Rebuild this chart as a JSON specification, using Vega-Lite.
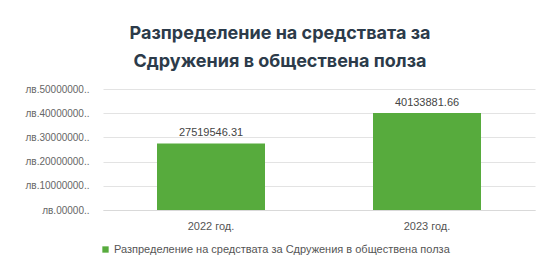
{
  "$schema": "https://vega.github.io/schema/vega-lite/v6.json",
  "width": 432,
  "height": 121,
  "autosize": {"type": "none"},
  "padding": {"left": 103, "top": 89, "right": 1, "bottom": 52},
  "background": "white",
  "title": {
    "text": ["Разпределение на средствата за", "Сдружения в обществена полза"],
    "font": "Inter",
    "fontSize": 18,
    "fontWeight": "bold",
    "color": "#2c3b4a",
    "lineHeight": 28,
    "anchor": "middle",
    "frame": "group",
    "dx": -39,
    "offset": 13
  },
  "data": {
    "values": [
      {"year": "2022 год.", "value": 27519546.31, "series": "Разпределение на средствата за Сдружения в обществена полза"},
      {"year": "2023 год.", "value": 40133881.66, "series": "Разпределение на средствата за Сдружения в обществена полза"}
    ]
  },
  "encoding": {
    "x": {
      "field": "year", "type": "nominal", "title": null, "sort": null,
      "scale": {"paddingInner": 0.5, "paddingOuter": 0.25},
      "axis": {"labelAngle": 0, "domain": true, "domainColor": "#d9d9d9", "ticks": false, "labelPadding": 10, "labelFont": "Liberation Sans", "labelFontSize": 11, "labelColor": "#555555"}
    },
    "y": {
      "field": "value", "type": "quantitative", "title": null,
      "scale": {"domain": [0, 50000000]},
      "axis": {
        "values": [0, 10000000, 20000000, 30000000, 40000000, 50000000],
        "labelExpr": "datum.value == 0 ? 'лв.00000..' : 'лв.' + datum.value + '..'",
        "domain": false, "ticks": false, "labelPadding": 14,
        "gridColor": "#e3e3e3", "labelFont": "Liberation Sans", "labelFontSize": 10, "labelColor": "#666666"
      }
    }
  },
  "layer": [
    {
      "mark": {"type": "bar"},
      "encoding": {
        "color": {
          "field": "series", "type": "nominal", "title": null,
          "scale": {"range": ["#57ab3d"]},
          "legend": {"orient": "none", "legendX": -3, "legendY": 155, "symbolType": "square", "symbolSize": 40, "labelLimit": 0, "labelFont": "Liberation Sans", "labelFontSize": 11, "labelColor": "#555555", "symbolOffset": 0, "labelOffset": 3}
        }
      }
    },
    {
      "mark": {"type": "text", "dy": -10, "font": "Liberation Sans", "fontSize": 11, "color": "#444444"},
      "encoding": {
        "text": {"field": "value", "type": "quantitative", "format": ".2f"}
      }
    }
  ],
  "config": {"view": {"stroke": null}}
}
